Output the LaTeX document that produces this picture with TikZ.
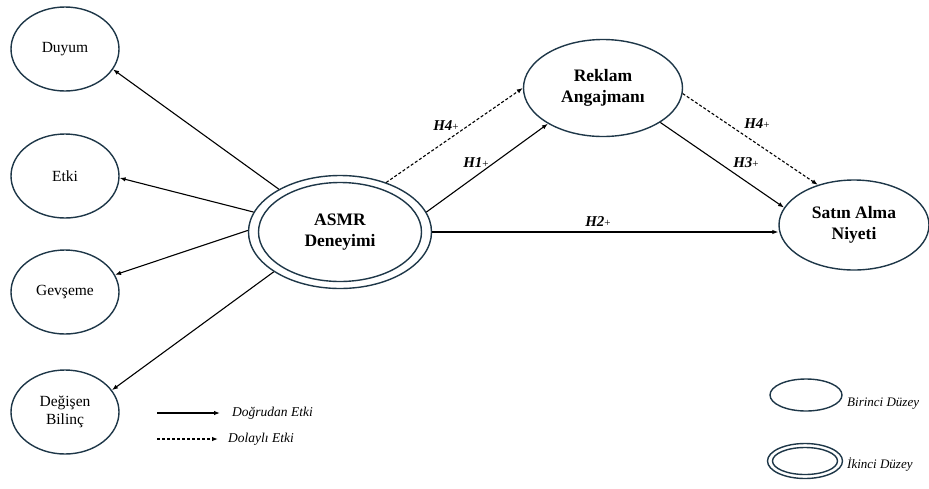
\documentclass[tikz,border=0pt]{standalone}
\usepackage{fontspec}
\setmainfont{Liberation Serif}
\usetikzlibrary{shapes.geometric,arrows.meta}
\definecolor{rim}{RGB}{30,55,72}
\newcommand{\hlabel}[1]{\textbf{\textit{#1}}{\fontsize{11}{12}\selectfont+}}

\begin{document}
\begin{tikzpicture}[x=1pt,y=-1pt,
  construct/.style={ellipse, draw=rim, line width=1.4pt, inner sep=0pt,
    align=center, font=\fontsize{15.5}{18}\selectfont},
  keyconstruct/.style={construct, font=\fontsize{17.5}{21}\bfseries},
  path/.style={line width=1.1pt, -{Latex[length=6pt,width=4.5pt]}},
  indirect/.style={path, dash pattern=on 3pt off 2pt},
  hyp/.style={font=\fontsize{15}{18}\selectfont, inner sep=1pt},
  legendtext/.style={font=\fontsize{13.5}{16}\itshape, anchor=west, inner sep=0pt}
]
\useasboundingbox (0,0) rectangle (929,488);

% first-order dimensions
\node[construct, minimum width=108pt, minimum height=84pt] (duyum)  at (65,49)  {Duyum};
\node[construct, minimum width=108pt, minimum height=84pt] (etki)   at (65,176) {Etki};
\node[construct, minimum width=108pt, minimum height=84pt] (gevseme) at (65,292) {Gevşeme};
\node[construct, minimum width=108pt, minimum height=84pt] (bilinc) at (65,412) {Değişen\\Bilinç};

% second-order construct
\node[keyconstruct, minimum width=183pt, minimum height=113pt] (asmr) at (340,232) {ASMR\\Deneyimi};
\draw[rim, line width=1.4pt] (asmr.center) ellipse [x radius=81.5, y radius=49.5];

% mediator and outcome
\node[keyconstruct, minimum width=159pt, minimum height=97pt] (reklam) at (603,88) {Reklam\\Angajmanı};
\node[keyconstruct, minimum width=150pt, minimum height=90pt] (satin) at (854,225) {Satın Alma\\Niyeti};

% measurement paths
\draw[path] (asmr.145) -- (duyum.-23);
\draw[path] (asmr.167) -- (etki.-2);
\draw[path] (asmr.179) -- (gevseme.19);
\draw[path] (asmr.211) -- (bilinc.25);

% structural paths
\draw[indirect] (asmr.47) -- (reklam.180);
\draw[path] (asmr.13) -- (reklam.213);
\draw[path] (asmr.east) -- (asmr.east -| satin.west);
\draw[path] (reklam.-31) -- (satin.166);
\draw[indirect] (reklam.-4) -- (satin.132);

% hypothesis labels
\node[hyp] (h4a) at (446,126) {\hlabel{H4}};
\node[hyp] (h1)  at (476,163) {\hlabel{H1}};
\node[hyp] (h2)  at (598,222) {\hlabel{H2}};
\node[hyp] (h3)  at (746,163) {\hlabel{H3}};
\node[hyp] (h4b) at (757,124) {\hlabel{H4}};

% legend: path types
\coordinate (ls1) at (157,413);
\coordinate (le1) at (220,413);
\coordinate (ls2) at (157,439);
\coordinate (le2) at (218,439);
\draw[path] (ls1) -- (le1);
\draw[indirect] (ls2) -- (le2);
\node[legendtext] (direct) at (232,413) {Doğrudan Etki};
\node[legendtext] (mediated) at (228,439) {Dolaylı Etki};

% legend: construct levels
\node[ellipse, draw=rim, line width=1.4pt, minimum width=72pt, minimum height=32pt] (first) at (806,395) {};
\node[ellipse, draw=rim, line width=1.4pt, minimum width=75pt, minimum height=35pt] (second) at (805,461) {};
\draw[rim, line width=1.4pt] (second.center) ellipse [x radius=32.5, y radius=13.5];
\node[legendtext, font=\fontsize{13}{16}\itshape] (firstlbl) at (847,404) {Birinci Düzey};
\node[legendtext, font=\fontsize{13}{16}\itshape] (secondlbl) at (847,465) {İkinci Düzey};
\end{tikzpicture}
\end{document}
